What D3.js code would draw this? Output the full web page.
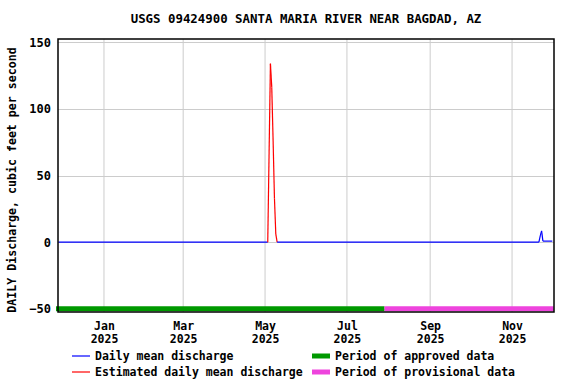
<!DOCTYPE html>
<html>
<head>
<meta charset="utf-8">
<script src="https://cdn.jsdelivr.net/npm/d3@7"></script>
<style>
  body { margin: 0; background: #fff; }
  text { font-family: 'DejaVu Sans Mono', monospace; font-weight: bold; fill: #000; }
</style>
</head>
<body>
<div class="chart"></div>
<script>
// Data (dates where the daily line changes)
var flowDates = ['2024-11-28', '2025-05-03', '2025-05-04', '2025-05-05', '2025-05-06', '2025-05-07',
  '2025-05-08', '2025-05-09', '2025-05-10', '2025-11-21', '2025-11-22', '2025-11-23', '2025-11-24', '2025-12-01'];
var flowValues = [0, 0, 67, 134, 116, 76, 33, 6, 0, 0, 4.7, 8.5, 0.8, 0.8];
var flowEstimated = [false, false, true, true, true, true, true, true, false, false, false, false, false, false];

var periodNames = ['approved', 'provisional'];
var periodStarts = ['2024-11-27', '2025-07-29'];
var periodEnds = ['2025-07-29', '2025-12-02'];
var periodColors = ['#009900', '#ee44dd'];

var yTicks = [-50, 0, 50, 100, 150];

var svgWidth = 576;
var svgHeight = 384;

var margin = {
  top: 39,
  right: 22,
  bottom: 72,
  left: 58
};

var width = svgWidth - margin.left - margin.right;
var height = svgHeight - margin.top - margin.bottom;

var parseDate = d3.timeParse('%Y-%m-%d');

var data = flowDates.map(function(d, i) {
  return { date: parseDate(d), value: flowValues[i], est: flowEstimated[i] };
});

var svg = d3.select('.chart')
  .append('svg')
  .attr('width', svgWidth)
  .attr('height', svgHeight);

var chartGroup = svg.append('g')
  .attr('transform', `translate(${margin.left}, ${margin.top})`);

// Scales
var xTimeScale = d3.scaleTime()
  .domain([new Date(2024, 10, 27, 18), new Date(2025, 11, 2, 6)])
  .range([0, width]);

var yLinearScale = d3.scaleLinear()
  .domain([-52.4, 152.5])
  .range([height, 0]);

var monthTicks = xTimeScale.ticks(d3.timeMonth.every(2));

// Grid
chartGroup.append('g')
  .selectAll('line')
  .data(monthTicks)
  .enter()
  .append('line')
  .attr('x1', d => xTimeScale(d))
  .attr('x2', d => xTimeScale(d))
  .attr('y1', 0)
  .attr('y2', height)
  .attr('stroke', '#cccccc')
  .attr('stroke-width', 1);

chartGroup.append('g')
  .selectAll('line')
  .data(yTicks)
  .enter()
  .append('line')
  .attr('x1', 0)
  .attr('x2', width)
  .attr('y1', d => Math.round(yLinearScale(d)) + 0.5)
  .attr('y2', d => Math.round(yLinearScale(d)) + 0.5)
  .attr('stroke', '#cccccc')
  .attr('stroke-width', 1);

// Approval period bar
chartGroup.append('g')
  .selectAll('line')
  .data(periodNames)
  .enter()
  .append('line')
  .attr('x1', (d, i) => i === 0 ? -2 : xTimeScale(parseDate(periodStarts[i])))
  .attr('x2', (d, i) => xTimeScale(parseDate(periodEnds[i])))
  .attr('y1', yLinearScale(-50))
  .attr('y2', yLinearScale(-50))
  .attr('stroke', (d, i) => periodColors[i])
  .attr('stroke-width', 5);

// Discharge line, one segment per pair of points
var segments = d3.pairs(data);
chartGroup.append('g')
  .selectAll('line')
  .data(segments)
  .enter()
  .append('line')
  .attr('x1', d => xTimeScale(d[0].date))
  .attr('x2', d => xTimeScale(d[1].date))
  .attr('y1', d => yLinearScale(d[0].value))
  .attr('y2', d => yLinearScale(d[1].value))
  .attr('stroke', d => (d[0].est || d[1].est) ? '#ff0000' : '#0000ff')
  .attr('stroke-width', 1.2);

// Frame
chartGroup.append('rect')
  .attr('x', 0)
  .attr('y', 0)
  .attr('width', width)
  .attr('height', height)
  .attr('fill', 'none')
  .attr('stroke', '#000')
  .attr('stroke-width', 1.5);

// Axes labels
var leftAxis = d3.axisLeft(yLinearScale).tickValues(yTicks).tickSize(0).tickPadding(7);
var yAxisGroup = chartGroup.append('g').call(leftAxis);
yAxisGroup.select('.domain').remove();
yAxisGroup.selectAll('text')
  .style('font-size', '12px')
  .style('font-family', "'DejaVu Sans Mono', monospace")
  .style('font-weight', 'bold');

var bottomAxis = d3.axisBottom(xTimeScale)
  .tickValues(monthTicks)
  .tickSize(0)
  .tickFormat('');
var xAxisGroup = chartGroup.append('g')
  .attr('transform', `translate(0, ${height})`)
  .call(bottomAxis);
xAxisGroup.select('.domain').remove();

var monthLabel = d3.timeFormat('%b');
var yearLabel = d3.timeFormat('%Y');
xAxisGroup.selectAll('.tick')
  .each(function(d) {
    var t = d3.select(this).append('text')
      .attr('text-anchor', 'middle')
      .style('font-size', '11.5px');
    t.append('tspan').attr('x', 0).attr('y', 18).text(monthLabel(d));
    t.append('tspan').attr('x', 0).attr('y', 31).text(yearLabel(d));
  });

svg.append('text')
  .attr('x', 306)
  .attr('y', 23)
  .attr('text-anchor', 'middle')
  .style('font-size', '12.4px')
  .text('USGS 09424900 SANTA MARIA RIVER NEAR BAGDAD, AZ');

svg.append('text')
  .attr('transform', 'rotate(-90)')
  .attr('x', -180)
  .attr('y', 16)
  .attr('text-anchor', 'middle')
  .style('font-size', '11.6px')
  .text('DAILY Discharge, cubic feet per second');

// Legend
var legendItems = [
  { x: 72, y: 356, color: '#0000ff', w: 1.2, label: 'Daily mean discharge' },
  { x: 72, y: 372, color: '#ff0000', w: 1.2, label: 'Estimated daily mean discharge' },
  { x: 312, y: 356, color: periodColors[0], w: 5, label: 'Period of approved data' },
  { x: 312, y: 372, color: periodColors[1], w: 5, label: 'Period of provisional data' }
];

var legend = svg.append('g')
  .selectAll('g')
  .data(legendItems)
  .enter()
  .append('g')
  .attr('transform', d => `translate(${d.x}, ${d.y})`);

legend.append('line')
  .attr('x1', 0)
  .attr('x2', 18)
  .attr('stroke', d => d.color)
  .attr('stroke-width', d => d.w);

legend.append('text')
  .attr('x', 23)
  .attr('dy', '0.35em')
  .style('font-size', '11.5px')
  .text(d => d.label);
</script>
</body>
</html>
